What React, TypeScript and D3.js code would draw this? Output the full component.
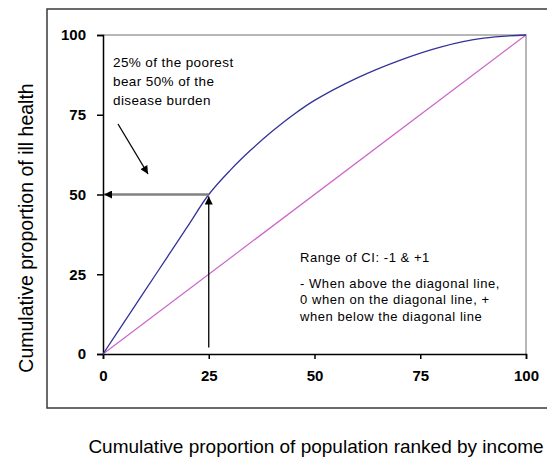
import React, { useEffect, useRef } from 'react'
import * as d3 from 'd3'

// cumulative % of population ranked by income (poorest first)
const popShare = [0, 5, 10, 15, 20, 25, 30, 35, 40, 45, 50, 60, 70, 80, 90, 100]
// cumulative % of ill health
const illShare = [0, 10, 20, 30, 40, 50, 57.5, 64, 69.8, 75, 79.5, 86.5, 92, 96.3, 99, 100]
const tickValues = [0, 25, 50, 75, 100]

const noteLeft = ['25% of the poorest', 'bear 50% of the', 'disease burden']
const noteRight = ['Range of CI: -1 & +1', '- When above the diagonal line,', '0 when on the diagonal line, +', 'when below the diagonal line']

const W = 547
const H = 459
const FONT = "Arial, 'Liberation Sans', sans-serif"

const App = () => {
  const svgRef = useRef<SVGSVGElement>(null)

  useEffect(() => {
    const svg = d3.select(svgRef.current)
    svg.selectAll('*').remove()

    const x = d3.scaleLinear([0, 100], [103, 526])
    const y = d3.scaleLinear([0, 100], [354, 35])

    const defs = svg.append('defs')
    defs.append('marker')
      .attr('id', 'head')
      .attr('viewBox', '0 0 10 10')
      .attr('refX', 10).attr('refY', 5)
      .attr('markerWidth', 10).attr('markerHeight', 8)
      .attr('markerUnits', 'userSpaceOnUse')
      .attr('orient', 'auto')
      .append('path').attr('d', 'M0,0 L10,5 L0,10 Z').attr('fill', '#000')

    // outer box
    svg.append('rect')
      .attr('x', 47).attr('y', 9).attr('width', 530).attr('height', 399)
      .attr('fill', 'none').attr('stroke', '#3a3a3a').attr('stroke-width', 1.5)

    // plot frame top/right (gray)
    svg.append('path')
      .attr('d', `M${x(0)},${y(100)} L${x(100)},${y(100)} L${x(100)},${y(0)}`)
      .attr('fill', 'none').attr('stroke', '#a0a0a0').attr('stroke-width', 1.5)

    // axes
    const yAxis = svg.append('g').attr('transform', `translate(${x(0)},0)`)
      .call(d3.axisLeft(y).tickValues(tickValues).tickSize(6).tickPadding(11).tickFormat(d3.format('d')))
    const xAxis = svg.append('g').attr('transform', `translate(0,${y(0)})`)
      .call(d3.axisBottom(x).tickValues(tickValues).tickSize(5).tickPadding(11).tickFormat(d3.format('d')))
    ;[xAxis, yAxis].forEach(g => {
      g.select('.domain').attr('stroke', '#000').attr('stroke-width', 1.5)
      g.selectAll('.tick line').attr('stroke', '#000').attr('stroke-width', 1.5)
      g.selectAll('.tick text')
        .attr('font-family', FONT).attr('font-size', 15).attr('font-weight', 'bold').attr('fill', '#000')
    })

    // diagonal (line of equality)
    svg.append('line')
      .attr('x1', x(0)).attr('y1', y(0)).attr('x2', x(100)).attr('y2', y(100))
      .attr('stroke', '#cc66cc').attr('stroke-width', 1.2)

    // concentration curve
    const line = d3.line<number>()
      .x((_, i) => x(popShare[i]))
      .y(d => y(d))
      .curve(d3.curveCatmullRom.alpha(0.5))
    svg.append('path')
      .attr('d', line(illShare))
      .attr('fill', 'none').attr('stroke', '#333399').attr('stroke-width', 1.3)

    // arrows
    svg.append('line')
      .attr('x1', x(25)).attr('y1', y(50)).attr('x2', x(0) + 1).attr('y2', y(50))
      .attr('stroke', '#808080').attr('stroke-width', 2.4).attr('marker-end', 'url(#head)')
    svg.append('line')
      .attr('x1', x(25)).attr('y1', y(2)).attr('x2', x(25)).attr('y2', y(50) + 2)
      .attr('stroke', '#000').attr('stroke-width', 1.3).attr('marker-end', 'url(#head)')
    svg.append('line')
      .attr('x1', 118).attr('y1', 124).attr('x2', 148).attr('y2', 174)
      .attr('stroke', '#000').attr('stroke-width', 1.3).attr('marker-end', 'url(#head)')

    // notes
    svg.append('text')
      .attr('font-family', FONT).attr('font-size', 13.5).attr('letter-spacing', 0.4).attr('fill', '#000')
      .selectAll('tspan').data(noteLeft).join('tspan')
      .attr('x', 113).attr('y', (_, i) => 67 + i * 19)
      .text(d => d)
    svg.append('text')
      .attr('font-family', FONT).attr('font-size', 13).attr('letter-spacing', 0.55).attr('fill', '#000')
      .selectAll('tspan').data(noteRight).join('tspan')
      .attr('x', 300).attr('y', (_, i) => (i === 0 ? 262 : 271 + i * 16.5))
      .text(d => d)

    // axis titles
    svg.append('text')
      .attr('x', 316).attr('y', 453).attr('text-anchor', 'middle')
      .attr('font-family', FONT).attr('font-size', 19).attr('fill', '#000')
      .text('Cumulative proportion of population ranked by income')
    svg.append('text')
      .attr('transform', `translate(33,228) rotate(-90)`)
      .attr('text-anchor', 'middle')
      .attr('font-family', FONT).attr('font-size', 19.5).attr('fill', '#000')
      .text('Cumulative proportion of ill health')
  }, [])

  return (
    <svg ref={svgRef} width={W} height={H}
      style={{ position: 'absolute', left: 0, top: 0, background: '#fff' }} />
  )
}

export default App
